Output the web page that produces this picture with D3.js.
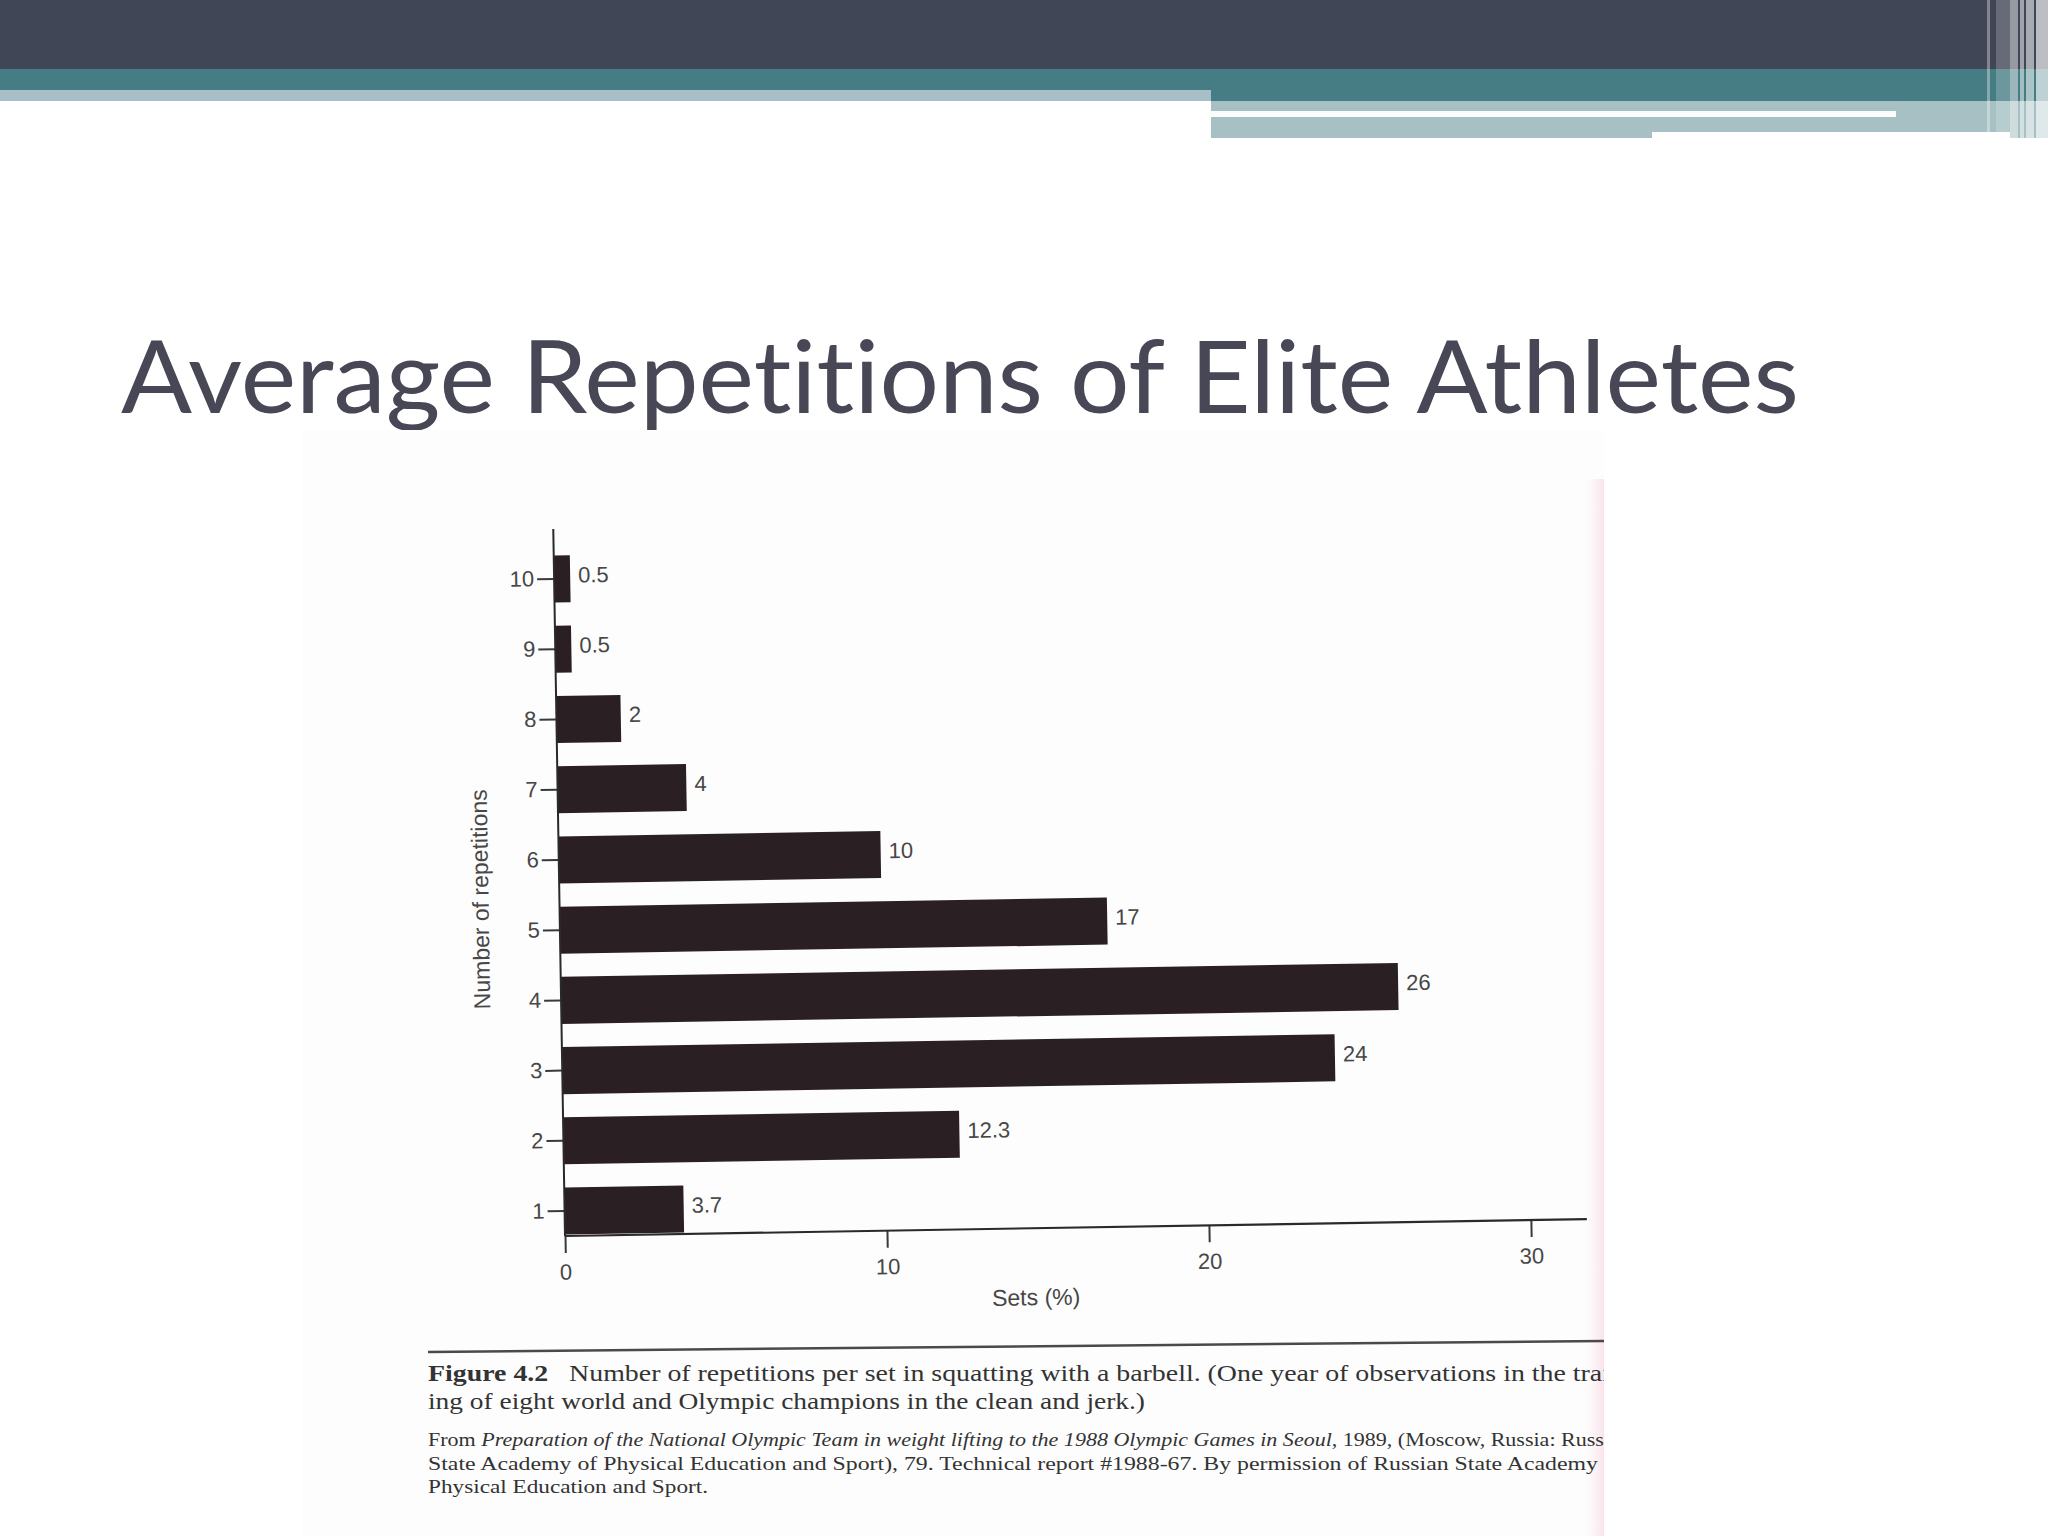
<!DOCTYPE html>
<html>
<head>
<meta charset="utf-8">
<script src="https://cdn.jsdelivr.net/npm/d3@7"></script>
<style>
  html, body { margin: 0; padding: 0; background: #ffffff; }
  svg { display: block; }
  text { font-variant-ligatures: none; font-feature-settings: "liga" 0, "clig" 0; }
</style>
</head>
<body>
<script>
// ---------- DATA ----------
const titleText = "Average Repetitions of Elite Athletes";
const repetitions = [10, 9, 8, 7, 6, 5, 4, 3, 2, 1];
const setsPercent = [0.5, 0.5, 2, 4, 10, 17, 26, 24, 12.3, 3.7];
const valueLabels = ["0.5", "0.5", "2", "4", "10", "17", "26", "24", "12.3", "3.7"];
const xTickValues = [0, 10, 20, 30];
const xAxisTitle = "Sets (%)";
const yAxisTitle = "Number of repetitions";
const captionLines = [
  { bold: "Figure 4.2", text: "   Number of repetitions per set in squatting with a barbell. (One year of observations in the trai" },
  { bold: "", text: "ing of eight world and Olympic champions in the clean and jerk.)" }
];
const sourceLines = [
  [{ t: "From ", i: false }, { t: "Preparation of the National Olympic Team in weight lifting to the 1988 Olympic Games in Seoul", i: true }, { t: ", 1989, (Moscow, Russia: Russi", i: false }],
  [{ t: "State Academy of Physical Education and Sport), 79. Technical report #1988-67. By permission of Russian State Academy", i: false }],
  [{ t: "Physical Education and Sport.", i: false }]
];

// ---------- SVG ----------
const W = 2048, H = 1536;
const svg = d3.select("body").append("svg").attr("width", W).attr("height", H);

// header bands
const hdr = svg.append("g");
hdr.append("rect").attr("x", 0).attr("y", 0).attr("width", W).attr("height", 69).attr("fill", "#414657");
hdr.append("rect").attr("x", 0).attr("y", 69).attr("width", W).attr("height", 32).attr("fill", "#467d85");
hdr.append("rect").attr("x", 0).attr("y", 90).attr("width", 1211).attr("height", 11).attr("fill", "#a8bfc7");
hdr.append("rect").attr("x", 1211).attr("y", 101).attr("width", W - 1211).attr("height", 37).attr("fill", "#a6c0c4");
hdr.append("rect").attr("x", 1211).attr("y", 111).attr("width", 685).attr("height", 6).attr("fill", "#fbfdfd");
hdr.append("rect").attr("x", 1652).attr("y", 132).attr("width", 358).attr("height", 6).attr("fill", "#ffffff");
const stripes = [
  { x: 1987, w: 3, o: 0.35 }, { x: 1996, w: 14, o: 0.2 }, { x: 2010, w: 8, o: 0.45 },
  { x: 2020, w: 4, o: 0.5 }, { x: 2026, w: 8, o: 0.55 }, { x: 2036, w: 12, o: 0.65 }
];
hdr.selectAll("rect.stripe").data(stripes).join("rect")
  .attr("class", "stripe").attr("x", d => d.x).attr("y", 0)
  .attr("width", d => d.w).attr("height", 138)
  .attr("fill", "#ffffff").attr("opacity", d => d.o);

// title
svg.append("text")
  .attr("x", 121).attr("y", 413)
  .attr("font-family", "Lato, 'Open Sans', sans-serif")
  .attr("font-size", 101)
  .attr("fill", "#474756")
  .attr("textLength", 1678).attr("lengthAdjust", "spacingAndGlyphs")
  .text(titleText);

// scanned page background
svg.append("rect").attr("x", 303).attr("y", 430).attr("width", 1301).attr("height", H - 430).attr("fill", "#fdfdfd");
const pink = svg.append("defs").append("linearGradient").attr("id", "pinkedge").attr("x1", "0").attr("x2", "1");
pink.append("stop").attr("offset", "0").attr("stop-color", "#fdf3f6").attr("stop-opacity", 0);
pink.append("stop").attr("offset", "1").attr("stop-color", "#f9e3ea").attr("stop-opacity", 1);
svg.append("rect").attr("x", 1584).attr("y", 479).attr("width", 20).attr("height", H - 479).attr("fill", "url(#pinkedge)");

// ---------- CHART ----------
const originX = 565, originY = 1236;
const plotW = 966, plotH = 682;
const chart = svg.append("g").attr("transform", `translate(${originX},${originY}) rotate(-0.95)`);

const x = d3.scaleLinear().domain([0, 30]).range([0, plotW]);
const y = d3.scaleBand().domain(repetitions).range([-plotH, 0]).paddingInner(0.33).paddingOuter(0.02);

const labelColor = "#474747";
const sansFont = "'Liberation Sans', Arial, sans-serif";

// bars
chart.selectAll("rect.bar").data(repetitions).join("rect")
  .attr("class", "bar")
  .attr("x", 0)
  .attr("y", d => y(d))
  .attr("width", (d, i) => x(setsPercent[i]))
  .attr("height", y.bandwidth())
  .attr("fill", "#2a2024");

// value labels
chart.selectAll("text.val").data(repetitions).join("text")
  .attr("class", "val")
  .attr("x", (d, i) => x(setsPercent[i]) + 8)
  .attr("y", d => y(d) + y.bandwidth() / 2 - 2)
  .attr("dominant-baseline", "middle")
  .attr("font-family", sansFont).attr("font-size", 22)
  .attr("fill", labelColor)
  .text((d, i) => valueLabels[i]);

// y axis
const yAxis = chart.append("g").call(d3.axisLeft(y).tickSize(17).tickPadding(3).tickSizeOuter(0));
yAxis.select(".domain").remove();
yAxis.selectAll(".tick line").attr("stroke", "#3a3a3a").attr("stroke-width", 2);
yAxis.selectAll(".tick text").attr("font-family", sansFont).attr("font-size", 22).attr("fill", labelColor);
chart.append("line").attr("x1", 0).attr("x2", 0).attr("y1", -707).attr("y2", 0)
  .attr("stroke", "#2a2a2a").attr("stroke-width", 2);

// x axis
const xAxis = chart.append("g").call(d3.axisBottom(x).tickValues(xTickValues).tickFormat(d3.format("d")).tickSize(17).tickPadding(11).tickSizeOuter(0));
xAxis.select(".domain").remove();
xAxis.selectAll(".tick line").attr("stroke", "#3a3a3a").attr("stroke-width", 2);
xAxis.selectAll(".tick text").attr("font-family", sansFont).attr("font-size", 22).attr("fill", labelColor);
chart.append("line").attr("x1", 0).attr("x2", plotW + 56).attr("y1", 0).attr("y2", 0)
  .attr("stroke", "#2a2a2a").attr("stroke-width", 2.2);

// axis titles
chart.append("text")
  .attr("x", x(14.6)).attr("y", 77)
  .attr("text-anchor", "middle")
  .attr("font-family", sansFont).attr("font-size", 23).attr("fill", labelColor)
  .text(xAxisTitle);
chart.append("text")
  .attr("transform", `translate(-77,-338) rotate(-90)`)
  .attr("text-anchor", "middle").attr("dominant-baseline", "middle")
  .attr("font-family", sansFont).attr("font-size", 23).attr("fill", labelColor)
  .text(yAxisTitle);

// ---------- CAPTION ----------
svg.append("defs").append("clipPath").attr("id", "pageclip")
  .append("rect").attr("x", 0).attr("y", 0).attr("width", 1604).attr("height", H);
const capClip = svg.append("g").attr("clip-path", "url(#pageclip)");
capClip.append("g").attr("transform", "translate(428,1352) rotate(-0.54)")
  .append("line").attr("x1", 0).attr("x2", 1190).attr("y1", 0).attr("y2", 0)
  .attr("stroke", "#4a4a4a").attr("stroke-width", 2.5);
const cap = capClip.append("g").attr("transform", "translate(428,1352)");
const serif = "'Liberation Serif', 'DejaVu Serif', serif";

const capLens = [1182, 717];
const capY = [29, 57];
captionLines.forEach((ln, i) => {
  const t = cap.append("text").attr("x", 0).attr("y", capY[i])
    .attr("font-family", serif).attr("font-size", 23).attr("fill", "#333")
    .attr("textLength", capLens[i]).attr("lengthAdjust", "spacingAndGlyphs")
    .attr("xml:space", "preserve");
  if (ln.bold) t.append("tspan").attr("font-weight", "bold").text(ln.bold);
  t.append("tspan").text(ln.text);
});

const srcLens = [1182, 1170, 280];
const srcY = [94, 118, 141];
sourceLines.forEach((parts, i) => {
  const t = cap.append("text").attr("x", 0).attr("y", srcY[i])
    .attr("font-family", serif).attr("font-size", 19).attr("fill", "#333")
    .attr("textLength", srcLens[i]).attr("lengthAdjust", "spacingAndGlyphs");
  parts.forEach(p => t.append("tspan").attr("font-style", p.i ? "italic" : "normal").text(p.t));
});
</script>
</body>
</html>
